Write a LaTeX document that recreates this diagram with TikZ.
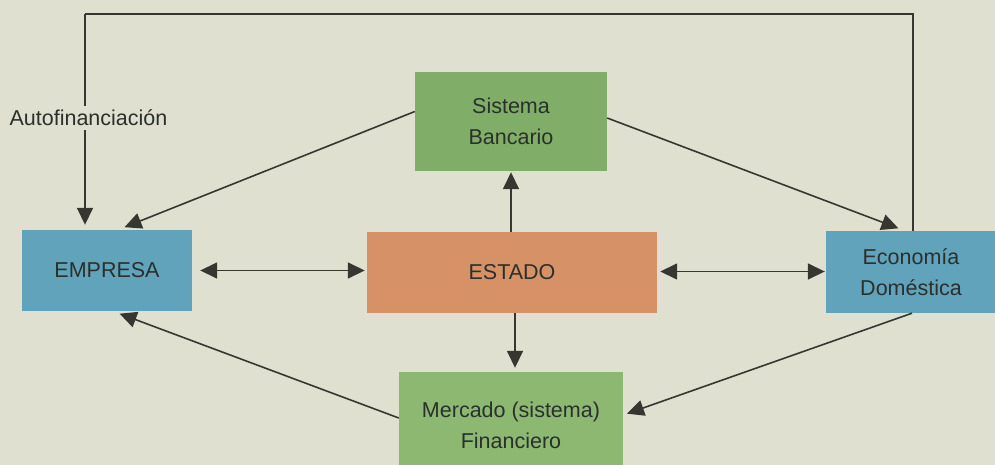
\documentclass[tikz,border=0pt]{standalone}
\usepackage{fontspec}
\setmainfont{Liberation Sans}
\usetikzlibrary{arrows.meta,calc}
\definecolor{bg}{RGB}{224,224,209}
\definecolor{bankgreen}{RGB}{128,174,104}
\definecolor{mercgreen}{RGB}{140,184,114}
\definecolor{boxblue}{RGB}{98,163,188}
\definecolor{boxorange}{RGB}{214,146,102}
\definecolor{txt}{RGB}{42,48,44}
\definecolor{lin}{RGB}{55,55,50}
\begin{document}
\begin{tikzpicture}[x=1pt,y=-1pt,
  box/.style={inner sep=0pt,align=center,text=txt,
    font=\fontsize{21.5}{31}\selectfont},
  tip/.tip={Triangle[length=17pt,width=16pt]},
  arr/.style={draw=lin,line width=1.6pt,-tip},
  darr/.style={draw=lin,line width=1.6pt,tip-tip},
  plain/.style={draw=lin,line width=1.6pt}]
\fill[bg] (0,0) rectangle (995,465);
\useasboundingbox (0,0) rectangle (995,465);
% boxes
\node[box,fill=bankgreen,minimum width=192pt,minimum height=99pt] (bank) at (511,121.5) {Sistema\\Bancario};
\node[box,fill=boxblue,minimum width=170pt,minimum height=81pt] (empresa) at (107,270.5) {EMPRESA};
\node[box,fill=boxorange,minimum width=290pt,minimum height=81pt] (estado) at (512,272.5) {ESTADO};
\node[box,fill=boxblue,minimum width=170pt,minimum height=82pt] (econ) at (911,272) {Economía\\Doméstica};
\node[box,fill=mercgreen,minimum width=224pt,minimum height=106pt] (merc) at (511,425) {Mercado (sistema)\\Financiero};
% connector end points
\coordinate (bankL) at ($(bank.west)+(0,-10)$);
\coordinate (bankR) at ($(bank.east)+(0,-3.5)$);
\coordinate (empTop) at ($(empresa.north)+(11,0)$);
\coordinate (empLoop) at ($(empresa.north)+(-22,0)$);
\coordinate (empBot) at ($(empresa.south)+(6,0)$);
\coordinate (econTopA) at ($(econ.north)+(-6,0)$);
\coordinate (econTopB) at ($(econ.north)+(2,0)$);
\coordinate (econBot) at ($(econ.south)+(1,0)$);
\coordinate (mercL) at ($(merc.west)+(0,-7)$);
\coordinate (mercR) at ($(merc.east)+(0,-10)$);
\coordinate (topR) at (913,14);
\coordinate (topL) at (85,14);
\coordinate (estDown) at ($(estado.south)+(3,0)$);
\coordinate (estL) at ($(empresa.east)+(0,0)$);
\coordinate (estR) at ($(estado.east)+(0,-1)$);
% connectors
\draw[arr,shorten >=7pt] (bankL) -- (empTop);
\draw[arr,shorten >=7pt] (bankR) -- (econTopA);
\draw[plain] (econTopB) -- (topR) -- (topL);
\draw[arr,shorten >=5pt] (topL) -- (empLoop);
\node[fill=bg,inner sep=4pt,text=txt,font=\fontsize{21.5}{26}\selectfont] (auto) at (88.5,118) {Autofinanciación};
\draw[arr,shorten >=1pt] (bank.south |- estado.north) -- (bank.south);
\draw[darr,shorten <=8pt,shorten >=2pt] (estL) -- (estL -| estado.west);
\draw[darr,shorten <=3pt,shorten >=1pt] (estR) -- (estR -| econ.west);
\draw[arr,shorten >=4pt] (estDown) -- (estDown |- merc.north);
\draw[arr,shorten >=7pt] (mercL) -- (empBot);
\draw[arr,shorten >=4pt] (econBot) -- (mercR);
\end{tikzpicture}
\end{document}
